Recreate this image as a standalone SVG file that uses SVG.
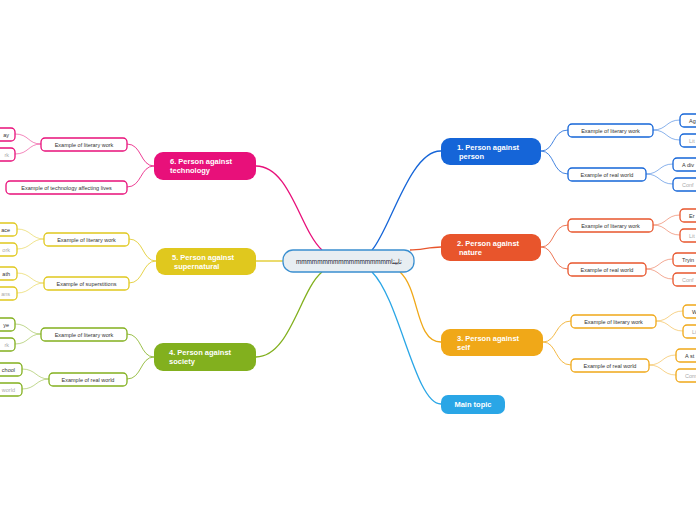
<svg xmlns="http://www.w3.org/2000/svg" width="696" height="520" viewBox="0 0 696 520">
<style>
text{font-family:"Liberation Sans",Arial,sans-serif}
.m{font-size:7.5px;font-weight:bold;fill:#fff}
.s{font-size:5.5px;fill:#333}
.g{font-size:5.5px;fill:#aaa}
.sub{fill:#fff;stroke-width:1.3}
.c{fill:none;stroke-width:1}
.t{fill:none;stroke-width:1.3}
</style>
<rect width="696" height="520" fill="#fff"/>
<g id="connectors">
<path class="t" stroke="#1565d8" d="M372 250 C390 230,410 150,441 151"/>
<path class="t" stroke="#e8552c" d="M410 250 C420 250,430 247,441 247"/>
<path class="t" stroke="#f0a818" d="M400 272 C420 290,415 342,441 342"/>
<path class="t" stroke="#2aa6e6" d="M372 272 C400 300,415 404,441 404"/>
<path class="t" stroke="#e8107a" d="M322 250 C300 230,290 166,256 166"/>
<path class="t" stroke="#e0c81e" d="M283 261 C270 261,265 261,256 261"/>
<path class="t" stroke="#82b01e" d="M322 272 C300 290,290 357,256 357"/>
<g stroke-opacity="0.8">
<path class="c" stroke="#1565d8" d="M541 151 C555 151,552 130,568 130 M541 151 C555 151,552 174,568 174"/>
<path class="c" stroke="#e8552c" d="M541 247 C555 247,552 225,568 225 M541 247 C555 247,552 269,568 269"/>
<path class="c" stroke="#f0a818" d="M543 342 C557 342,555 321,571 321 M543 342 C557 342,555 365,571 365"/>
<path class="c" stroke="#e8107a" d="M154 166 C140 166,142 144,127 144 M154 166 C140 166,142 187,127 187"/>
<path class="c" stroke="#e0c81e" d="M156 261 C142 261,144 239,129 239 M156 261 C142 261,144 283,129 283"/>
<path class="c" stroke="#82b01e" d="M154 357 C140 357,142 334,127 334 M154 357 C140 357,142 379,127 379"/>
</g>
<g stroke-opacity="0.5">
<path class="c" stroke="#1565d8" d="M653 130 C667 130,666 120,680 120 M653 130 C667 130,666 140,680 140 M646 174 C660 174,659 164,673 164 M646 174 C660 174,659 184,673 184"/>
<path class="c" stroke="#e8552c" d="M653 225 C667 225,666 215,680 215 M653 225 C667 225,666 235,680 235 M646 269 C660 269,659 259,673 259 M646 269 C660 269,659 279,673 279"/>
<path class="c" stroke="#f0a818" d="M656 321 C670 321,669 311,683 311 M656 321 C670 321,669 331,683 331 M649 365 C663 365,662 355,676 355 M649 365 C663 365,662 375,676 375"/>
<path class="c" stroke="#e8107a" d="M41 144 C28 144,29 134,15 134 M41 144 C28 144,29 154,15 154"/>
<path class="c" stroke="#e0c81e" d="M44 239 C31 239,31 229,17 229 M44 239 C31 239,31 249,17 249 M44 283 C31 283,31 273,17 273 M44 283 C31 283,31 293,17 293"/>
<path class="c" stroke="#82b01e" d="M41 334 C28 334,29 324,15 324 M41 334 C28 334,29 344,15 344 M49 379 C36 379,36 369,22 369 M49 379 C36 379,36 389,22 389"/>
</g>
</g>
<g id="center"><rect x="283" y="250" width="131" height="22" rx="10" fill="#e8eef2" stroke="#3a8fd0" stroke-width="1.3"/><text x="296" y="264" font-size="7" fill="#223" textLength="106" lengthAdjust="spacingAndGlyphs" font-family="'DejaVu Sans',sans-serif">mmmmmmmmmmmmmmmmmmتابيتا</text></g>
<g id="n1"><rect x="441" y="138" width="100" height="27" rx="9" fill="#1565d8"/><text class="m" x="457" y="150">1. Person against</text><text class="m" x="459" y="159">person</text></g>
<g id="n2"><rect x="441" y="234" width="100" height="27" rx="9" fill="#e8552c"/><text class="m" x="457" y="246">2. Person against</text><text class="m" x="459" y="255">nature</text></g>
<g id="n3"><rect x="441" y="329" width="102" height="27" rx="9" fill="#f0a818"/><text class="m" x="457" y="341">3. Person against</text><text class="m" x="457" y="350">self</text></g>
<g id="n0"><rect x="441" y="395" width="64" height="19" rx="7" fill="#2aa6e6"/><text class="m" x="473" y="407" text-anchor="middle" fill="#123">Main topic</text></g>
<g id="n6"><rect x="154" y="152" width="102" height="28" rx="9" fill="#e8107a"/><text class="m" x="170" y="164">6. Person against</text><text class="m" x="170" y="173">technology</text></g>
<g id="n5"><rect x="156" y="248" width="100" height="27" rx="9" fill="#e0c81e"/><text class="m" x="172" y="260" fill="#222">5. Person against</text><text class="m" x="174" y="269" fill="#222">supernatural</text></g>
<g id="n4"><rect x="154" y="343" width="102" height="28" rx="9" fill="#82b01e"/><text class="m" x="169" y="355" fill="#222">4. Person against</text><text class="m" x="169" y="364" fill="#222">society</text></g>
<g id="subs">
<g stroke="#1565d8"><rect class="sub" x="568" y="124" width="85" height="13" rx="4"/><rect class="sub" x="568" y="168" width="78" height="13" rx="4"/><rect class="sub" x="680" y="114" width="30" height="13" rx="4"/><rect class="sub" x="680" y="134" width="30" height="13" rx="4"/><rect class="sub" x="673" y="158" width="40" height="13" rx="4"/><rect class="sub" x="673" y="178" width="40" height="13" rx="4"/></g>
<g stroke="#e8552c"><rect class="sub" x="568" y="219" width="85" height="13" rx="4"/><rect class="sub" x="568" y="263" width="78" height="13" rx="4"/><rect class="sub" x="680" y="209" width="30" height="13" rx="4"/><rect class="sub" x="680" y="229" width="30" height="13" rx="4"/><rect class="sub" x="673" y="253" width="40" height="13" rx="4"/><rect class="sub" x="673" y="273" width="40" height="13" rx="4"/></g>
<g stroke="#f0a818"><rect class="sub" x="571" y="315" width="85" height="13" rx="4"/><rect class="sub" x="571" y="359" width="78" height="13" rx="4"/><rect class="sub" x="683" y="305" width="30" height="13" rx="4"/><rect class="sub" x="683" y="325" width="30" height="13" rx="4"/><rect class="sub" x="676" y="349" width="40" height="13" rx="4"/><rect class="sub" x="676" y="369" width="40" height="13" rx="4"/></g>
<g stroke="#e8107a"><rect class="sub" x="41" y="138" width="86" height="13" rx="4"/><rect class="sub" x="6" y="181" width="121" height="13" rx="4"/><rect class="sub" x="-20" y="128" width="35" height="13" rx="4"/><rect class="sub" x="-20" y="148" width="35" height="13" rx="4"/></g>
<g stroke="#e0c81e"><rect class="sub" x="44" y="233" width="85" height="13" rx="4"/><rect class="sub" x="44" y="277" width="85" height="13" rx="4"/><rect class="sub" x="-20" y="223" width="37" height="13" rx="4"/><rect class="sub" x="-20" y="243" width="37" height="13" rx="4"/><rect class="sub" x="-20" y="267" width="37" height="13" rx="4"/><rect class="sub" x="-20" y="287" width="37" height="13" rx="4"/></g>
<g stroke="#82b01e"><rect class="sub" x="41" y="328" width="86" height="13" rx="4"/><rect class="sub" x="49" y="373" width="78" height="13" rx="4"/><rect class="sub" x="-20" y="318" width="35" height="13" rx="4"/><rect class="sub" x="-20" y="338" width="35" height="13" rx="4"/><rect class="sub" x="-20" y="363" width="42" height="13" rx="4"/><rect class="sub" x="-20" y="383" width="42" height="13" rx="4"/></g>
<g class="s" text-anchor="middle">
<text class="s" x="610.5" y="132.5">Example of literary work</text><text class="s" x="607" y="176.5">Example of real world</text>
<text class="s" x="610.5" y="227.5">Example of literary work</text><text class="s" x="607" y="271.5">Example of real world</text>
<text class="s" x="613.5" y="323.5">Example of literary work</text><text class="s" x="610" y="367.5">Example of real world</text>
<text class="s" x="84" y="146.5">Example of literary work</text><text class="s" x="66.5" y="189.5">Example of technology affecting lives</text>
<text class="s" x="86.5" y="241.5">Example of literary work</text><text class="s" x="86.5" y="285.5">Example of superstitions</text>
<text class="s" x="84" y="336.5">Example of literary work</text><text class="s" x="88" y="381.5">Example of real world</text>
</g>
<g>
<text class="s" x="689" y="122.5">Ag</text><text class="g" x="689" y="142.5">Lit</text><text class="s" x="682" y="166.5">A div</text><text class="g" x="682" y="186.5">Conf</text>
<text class="s" x="689" y="217.5">Er</text><text class="g" x="689" y="237.5">Lit</text><text class="s" x="682" y="261.5">Tryin</text><text class="g" x="682" y="281.5">Conf</text>
<text class="s" x="692" y="313.5">W</text><text class="g" x="692" y="333.5">Li</text><text class="s" x="685" y="357.5">A st</text><text class="g" x="685" y="377.5">Com</text>
</g>
<g text-anchor="end">
<text class="s" x="9" y="136.5">ay</text><text class="g" x="9" y="156.5">rk</text>
<text class="s" x="10" y="231.5">ace</text><text class="g" x="10" y="251.5">ork</text><text class="s" x="10" y="275.5">ath</text><text class="g" x="10" y="295.5">ans</text>
<text class="s" x="9" y="326.5">ye</text><text class="g" x="9" y="346.5">rk</text><text class="s" x="15" y="371.5">chool</text><text class="g" x="15" y="391.5">world</text>
</g>
</g>
</svg>
